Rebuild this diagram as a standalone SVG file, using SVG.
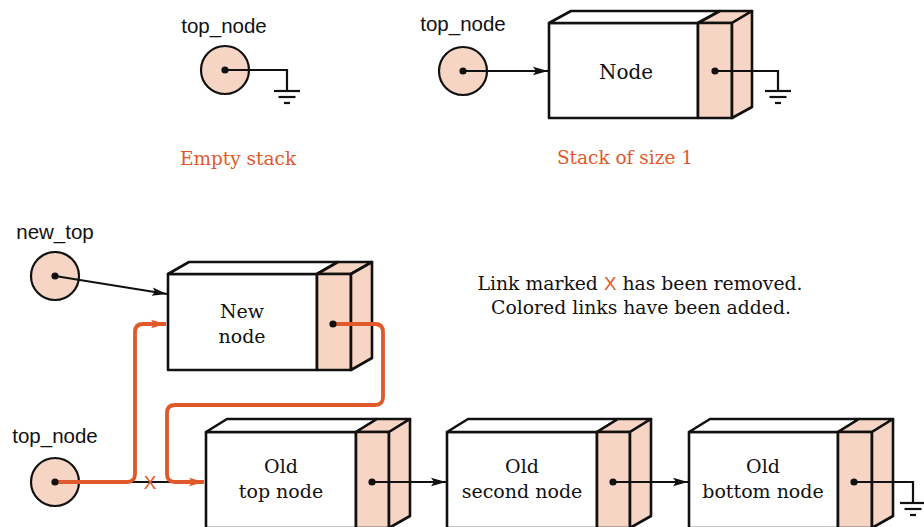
<svg xmlns="http://www.w3.org/2000/svg" width="924" height="527" viewBox="0 0 924 527">
<style>
.sans{font-family:"Liberation Sans",Arial,sans-serif;font-size:20.5px;fill:#111;text-anchor:middle}
.serif{font-family:"DejaVu Serif","Liberation Serif",serif;font-size:19px;fill:#111;text-anchor:middle}
.cap{font-family:"DejaVu Serif","Liberation Serif",serif;font-size:18.5px;fill:#e0592a;text-anchor:middle}
.note{font-family:"DejaVu Serif","Liberation Serif",serif;font-size:18.8px;fill:#111;text-anchor:middle}
.ptr{fill:#f7d5c5;stroke:#111;stroke-width:2.2}
.white{fill:#fff;stroke:#111;stroke-width:2.6;stroke-linejoin:round}
.pink{fill:#f7d5c5;stroke:#111;stroke-width:2.6;stroke-linejoin:round}
.wire{fill:none;stroke:#111;stroke-width:2.2}
.new{fill:none;stroke:#e0592a;stroke-width:3.8;stroke-linejoin:round}
.gnd{stroke:#111;stroke-width:2.2}
</style>
<defs>
<marker id="ah" markerUnits="userSpaceOnUse" markerWidth="16" markerHeight="10" refX="15" refY="5" orient="auto">
<path d="M0,0.8 L15,5 L0,9.2 L3,5 Z" fill="#111"/>
</marker>
<marker id="aho" markerUnits="userSpaceOnUse" markerWidth="16" markerHeight="10" refX="15" refY="5" orient="auto">
<path d="M0,0.8 L15,5 L0,9.2 L3,5 Z" fill="#e0592a"/>
</marker>
<g id="ground">
<line class="gnd" x1="-13" y1="0" x2="13" y2="0"/>
<line class="gnd" x1="-8.5" y1="6" x2="8.5" y2="6"/>
<line class="gnd" x1="-3" y1="12" x2="3" y2="12"/>
</g>
</defs>

<!-- Empty stack -->
<g id="empty_top_node">
<text class="sans" x="224" y="33">top_node</text>
<circle class="ptr" cx="225" cy="70" r="24"/>
</g>
<text class="cap" x="238" y="165">Empty stack</text>

<!-- Stack of size 1 -->
<g id="one_top_node">
<text class="sans" x="463" y="31">top_node</text>
<circle class="ptr" cx="463" cy="71" r="24"/>
</g>
<g id="node_single">
<rect class="white" x="549" y="23" width="149" height="95"/>
<polygon class="white" points="549,23 571,11 720,11 698,23"/>
<polygon class="pink" points="698,23 720,11 752,11 732,23"/>
<rect class="pink" x="698" y="23" width="34" height="95"/>
<polygon class="pink" points="732,23 752,11 752,107 732,118"/>
<text class="serif" x="626" y="79" style="font-size:20px">Node</text>
</g>
<text class="cap" x="625" y="164">Stack of size 1</text>

<!-- Bottom diagram -->
<g id="new_top">
<text class="sans" x="55" y="239">new_top</text>
<circle class="ptr" cx="55" cy="276" r="24"/>
</g>
<g id="new_node">
<rect class="white" x="168" y="274" width="149" height="96"/>
<polygon class="white" points="168,274 189,262 338,262 317,274"/>
<polygon class="pink" points="317,274 338,262 372,262 351,274"/>
<rect class="pink" x="317" y="274" width="34" height="96"/>
<polygon class="pink" points="351,274 372,262 372,358 351,370"/>
<text class="serif" x="242" y="318">New</text>
<text class="serif" x="242" y="343">node</text>
</g>

<g id="bottom_top_node">
<text class="sans" x="55" y="443">top_node</text>
<circle class="ptr" cx="55" cy="482" r="24"/>
</g>

<g id="old_top_node">
<rect class="white" x="206" y="432" width="150" height="96"/>
<polygon class="white" points="206,432 227,419 377,419 356,432"/>
<polygon class="pink" points="356,432 377,419 410,419 389,432"/>
<rect class="pink" x="356" y="432" width="33" height="96"/>
<polygon class="pink" points="389,432 410,419 410,516 389,528"/>
<text class="serif" x="281" y="473">Old</text>
<text class="serif" x="281" y="498">top node</text>
</g>

<g id="old_second_node">
<rect class="white" x="447" y="432" width="150" height="96"/>
<polygon class="white" points="447,432 468,419 618,419 597,432"/>
<polygon class="pink" points="597,432 618,419 651,419 630,432"/>
<rect class="pink" x="597" y="432" width="33" height="96"/>
<polygon class="pink" points="630,432 651,419 651,516 630,528"/>
<text class="serif" x="522" y="473">Old</text>
<text class="serif" x="522" y="498">second node</text>
</g>

<g id="old_bottom_node">
<rect class="white" x="689" y="432" width="149" height="96"/>
<polygon class="white" points="689,432 710,419 859,419 838,432"/>
<polygon class="pink" points="838,432 859,419 893,419 872,432"/>
<rect class="pink" x="838" y="432" width="34" height="96"/>
<polygon class="pink" points="872,432 893,419 893,516 872,528"/>
<text class="serif" x="763" y="473">Old</text>
<text class="serif" x="763" y="498">bottom node</text>
</g>

<g id="note">
<text class="note" x="640" y="290">Link marked <tspan style="font-family:'Liberation Sans',Arial,sans-serif;fill:#e0592a">X</tspan> has been removed.</text>
<text class="note" x="641" y="314">Colored links have been added.</text>
</g>

<g id="connectors">
<!-- empty stack -->
<path class="wire" d="M225,70 H287 V91"/>
<use href="#ground" x="287" y="91"/>
<circle cx="225" cy="70" r="3.6" fill="#111"/>
<!-- size 1 -->
<path class="wire" d="M463,71 H548" marker-end="url(#ah)"/>
<circle cx="463" cy="71" r="3.6" fill="#111"/>
<path class="wire" d="M715,71 H778 V91"/>
<use href="#ground" x="778" y="91"/>
<circle cx="715" cy="71" r="3.6" fill="#111"/>
<!-- new_top to new node -->
<path class="wire" d="M55,276 L167,294" marker-end="url(#ah)"/>
<circle cx="55" cy="276" r="3.6" fill="#111"/>
<!-- removed link -->
<path class="wire" d="M55,482 H185"/>
<text x="150" y="489" style="font-family:'Liberation Sans',Arial,sans-serif;font-size:19px;fill:#e0592a;text-anchor:middle">X</text>
<!-- added links -->
<path class="new" d="M55,482 H127 Q135,482 135,474 V332 Q135,324 143,324 H166" marker-end="url(#aho)"/>
<path class="new" d="M333,324 H375 Q383,324 383,332 V397 Q383,405 375,405 H175 Q167,405 167,413 V474 Q167,482 175,482 H204" marker-end="url(#aho)"/>
<circle cx="55" cy="482" r="3.6" fill="#111"/>
<circle cx="333" cy="324" r="3.6" fill="#111"/>
<!-- old links -->
<path class="wire" d="M372,482 H446" marker-end="url(#ah)"/>
<circle cx="372" cy="482" r="3.6" fill="#111"/>
<path class="wire" d="M613,482 H688" marker-end="url(#ah)"/>
<circle cx="613" cy="482" r="3.6" fill="#111"/>
<path class="wire" d="M854,482 H913 V503"/>
<use href="#ground" x="913" y="503"/>
<circle cx="854" cy="482" r="3.6" fill="#111"/>
</g>
</svg>
